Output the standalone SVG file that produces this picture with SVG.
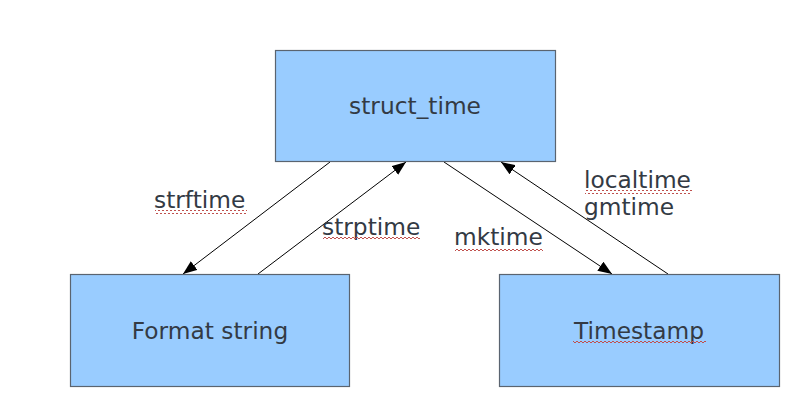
<svg xmlns="http://www.w3.org/2000/svg" width="797" height="406" viewBox="0 0 797 406">
<style>
.box{fill:#99ccff;stroke:#5a6470;stroke-width:1.2}
.lbl{font-family:"DejaVu Sans",sans-serif;font-size:23.3px;fill:#333a44}
.edge{stroke:#000;stroke-width:1;fill:none}
</style>
<defs>
<marker id="ah" viewBox="0 0 14 11" refX="14" refY="5.5" markerWidth="14" markerHeight="11" markerUnits="userSpaceOnUse" orient="auto">
<path d="M0,0 L14,5.5 L0,11 Z" fill="#000"/>
</marker>
<pattern id="wave" width="4" height="4" patternUnits="userSpaceOnUse">
<path d="M0,2 Q1,0 2,2 T4,2" stroke="#c0504d" stroke-width="1" fill="none"/>
</pattern>
</defs>
<rect width="797" height="406" fill="#fff"/>
<g id="connectors">
<line class="edge" x1="330" y1="162" x2="183" y2="274" marker-end="url(#ah)"/>
<line class="edge" x1="258" y1="274" x2="406" y2="162" marker-end="url(#ah)"/>
<line class="edge" x1="444" y1="162" x2="612" y2="274" marker-end="url(#ah)"/>
<line class="edge" x1="668" y1="274" x2="501" y2="162" marker-end="url(#ah)"/>
<text class="lbl" x="154" y="208">strftime</text>
<rect x="155" y="210" width="92" height="4" fill="url(#wave)"/>
<text class="lbl" x="322" y="235">strptime</text>
<rect x="323" y="237" width="97" height="4" fill="url(#wave)"/>
<text class="lbl" x="454" y="245">mktime</text>
<rect x="455" y="247" width="88" height="4" fill="url(#wave)"/>
<text class="lbl" x="584" y="188">localtime</text>
<rect x="585" y="190" width="107" height="4" fill="url(#wave)"/>
<text class="lbl" x="584" y="215">gmtime</text>
</g>
<g id="struct_time">
<rect class="box" x="275.5" y="50.5" width="280" height="111"/>
<text class="lbl" x="415" y="114" text-anchor="middle">struct_time</text>
</g>
<g id="format_string">
<rect class="box" x="70.5" y="274.5" width="279" height="112"/>
<text class="lbl" x="210" y="339" text-anchor="middle">Format string</text>
</g>
<g id="timestamp">
<rect class="box" x="499.5" y="274.5" width="280" height="112"/>
<text class="lbl" x="639" y="339" text-anchor="middle">Timestamp</text>
<rect x="573" y="341" width="133" height="4" fill="url(#wave)"/>
</g>
</svg>
